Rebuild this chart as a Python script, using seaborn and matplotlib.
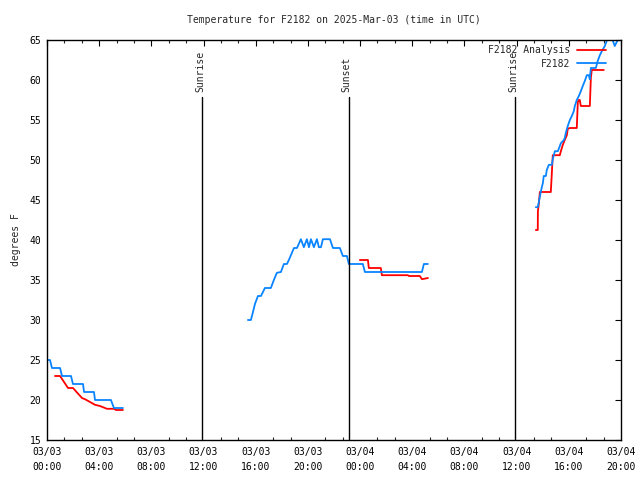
import numpy as np
import pandas as pd
import matplotlib
matplotlib.use("Agg")
import matplotlib.pyplot as plt
import matplotlib.dates as mdates
from matplotlib.ticker import MultipleLocator
import seaborn as sns

# ---------------- data (hours since 2025-03-03 00:00 UTC, temperature in F) -------------
START = "2025-03-03 00:00"

obs_hours_1 = [0.0, 0.23, 0.38, 1.0, 1.15, 1.84, 1.99, 2.76, 2.84, 3.60, 3.68, 4.90, 5.13, 5.82]
obs_temp_1 = [25, 25, 24, 24, 23, 23, 22, 22, 21, 21, 20, 20, 19, 19]

obs_hours_2 = [15.40, 15.63, 15.79, 15.94, 16.17, 16.40, 16.63, 16.70, 17.16, 17.39, 17.62,
               17.93, 18.16, 18.39, 18.54, 18.93, 19.16, 19.46, 19.69, 19.92, 20.08, 20.23,
               20.46, 20.69, 20.84, 21.00, 21.15, 21.69, 21.92, 22.45, 22.68, 22.99, 23.14,
               24.21, 24.37, 28.74, 28.89, 29.20]
obs_temp_2 = [30.0, 30.0, 31.0, 32.0, 33.0, 33.0, 33.75, 34.0, 34.0, 35.0, 35.9,
              36.0, 37.0, 37.0, 37.5, 39.0, 39.0, 40.1, 39.1, 40.1, 39.1, 40.1,
              39.1, 40.1, 39.1, 39.1, 40.1, 40.1, 39.0, 39.0, 38.0, 38.0, 37.0,
              37.0, 36.0, 36.0, 37.0, 37.0]

obs_hours_3 = [37.47, 37.62, 37.70, 37.85, 37.93, 38.01, 38.08, 38.24, 38.31, 38.47, 38.70,
               38.77, 38.85, 38.93, 39.16, 39.31, 39.39, 39.62, 39.69, 39.77, 39.92, 40.08,
               40.23, 40.38, 40.46, 40.61, 40.77, 40.92, 41.07, 41.23, 41.38, 41.53, 41.61,
               41.69, 41.92, 42.07, 42.22, 42.38, 42.53, 42.76, 42.91, 43.07, 43.30, 43.52,
               43.75, 43.91]
obs_temp_3 = [44.1, 44.1, 44.75, 46.0, 46.6, 47.1, 48.0, 48.0, 48.75, 49.4, 49.4,
              50.1, 50.6, 51.1, 51.1, 51.75, 52.1, 52.5, 52.75, 53.4, 54.25, 55.0,
              55.5, 56.1, 56.75, 57.5, 58.0, 58.6, 59.25, 59.9, 60.6, 60.6, 60.1,
              61.5, 61.5, 61.5, 62.4, 63.1, 63.6, 64.25, 64.9, 65.5, 65.25, 64.25,
              65.0, 65.4]

ana_hours_1 = [0.61, 1.0, 1.61, 1.99, 2.68, 2.91, 3.30, 3.68, 4.06, 4.60, 5.13, 5.29, 5.82]
ana_temp_1 = [23.0, 23.0, 21.5, 21.5, 20.25, 20.1, 19.75, 19.4, 19.25, 18.9, 18.9, 18.75, 18.75]

ana_hours_2 = [23.98, 24.60, 24.67, 25.59, 25.67, 27.66, 27.74, 28.58, 28.74, 29.20]
ana_temp_2 = [37.5, 37.5, 36.5, 36.5, 35.6, 35.6, 35.5, 35.5, 35.1, 35.25]

ana_hours_3 = [37.47, 37.62, 37.63, 37.70, 37.78, 38.62, 38.70, 38.77, 39.31, 39.39, 39.54,
               39.69, 39.85, 39.92, 40.08, 40.61, 40.69, 40.77, 40.84, 40.92, 41.61, 41.69,
               41.76, 42.68]
ana_temp_3 = [41.25, 41.25, 43.6, 44.5, 46.0, 46.0, 48.4, 50.6, 50.6, 51.1, 51.9,
              52.5, 53.1, 53.9, 54.0, 54.0, 57.25, 57.5, 57.5, 56.75, 56.75, 60.25,
              61.25, 61.25]

sun_labels = ["Sunrise", "Sunset", "Sunrise"]
sun_times = ["2025-03-03 11:54", "2025-03-03 23:08", "2025-03-04 11:54"]

title = "Temperature for F2182 on 2025-Mar-03 (time in UTC)"
ylabel = "degrees F"
series_names = ["F2182 Analysis", "F2182"]
series_colors = ["#ff0000", "#0a84ff"]

x_min, x_max = "2025-03-03 00:00", "2025-03-04 20:00"
y_min, y_max = 15, 65
marker_top = 57.9


def build(segs):
    frames = []
    for i, (h, t) in enumerate(segs):
        frames.append(pd.DataFrame({
            "time": pd.Timestamp(START) + pd.to_timedelta(h, unit="h"),
            "temp": t,
            "seg": i,
        }))
    return pd.concat(frames, ignore_index=True)


ana = build([(ana_hours_1, ana_temp_1), (ana_hours_2, ana_temp_2), (ana_hours_3, ana_temp_3)])
obs = build([(obs_hours_1, obs_temp_1), (obs_hours_2, obs_temp_2), (obs_hours_3, obs_temp_3)])

# ---------------- plot ----------------
sns.set_theme(style="white")
plt.rcParams["font.family"] = ["DejaVu Sans Mono"]

fig = plt.figure(figsize=(6.4, 4.8), dpi=100)
ax = fig.add_axes([47 / 640, 40 / 480, (621 - 47) / 640, 400 / 480])

sns.lineplot(data=ana, x="time", y="temp", units="seg", estimator=None,
             color=series_colors[0], lw=1.3, ax=ax, legend=False)
sns.lineplot(data=obs, x="time", y="temp", units="seg", estimator=None,
             color=series_colors[1], lw=1.3, ax=ax, legend=False)

ax.set_xlim(pd.Timestamp(x_min), pd.Timestamp(x_max))
ax.set_ylim(y_min, y_max)

frac = (marker_top - y_min) / (y_max - y_min)
for lab, tm in zip(sun_labels, sun_times):
    t = pd.Timestamp(tm)
    ax.axvline(t, ymin=0, ymax=frac, color="black", lw=1.0)
    ax.annotate(lab, xy=(t, marker_top), xytext=(-1.5, 3.5), textcoords="offset points",
                rotation=90, ha="center", va="bottom", fontsize=7)

ax.xaxis.set_major_locator(mdates.HourLocator(byhour=range(0, 24, 4)))
ax.xaxis.set_major_formatter(mdates.DateFormatter("%m/%d\n%H:%M"))
ax.xaxis.set_minor_locator(MultipleLocator(80 / 1440))
ax.yaxis.set_major_locator(MultipleLocator(5))

ax.tick_params(axis="both", which="major", direction="in", length=4.5, width=0.8,
               top=True, right=True, labelsize=7, colors="black", pad=5)
ax.tick_params(axis="x", which="minor", direction="in", length=2.5, width=0.8,
               top=True, bottom=True)
ax.tick_params(axis="y", which="both", pad=4)
for lbl in ax.get_xticklabels():
    lbl.set_linespacing(1.6)

for sp in ax.spines.values():
    sp.set_color("black")
    sp.set_linewidth(1.0)
    sp.set_visible(True)

ax.set_xlabel("")
ax.set_ylabel(ylabel, fontsize=7, labelpad=6)
ax.set_title(title, fontsize=7, pad=12)

handles = [plt.Line2D([], [], color=c, lw=1.3) for c in series_colors]
ax.legend(handles, series_names, loc="upper right", frameon=False, markerfirst=False,
          fontsize=7, handlelength=2.9, handletextpad=0.75, labelspacing=0.35,
          borderaxespad=0.0, borderpad=0.55, bbox_to_anchor=((611 - 47) / 574, 1.0))

fig.savefig("out.png", dpi=100, facecolor="white")
